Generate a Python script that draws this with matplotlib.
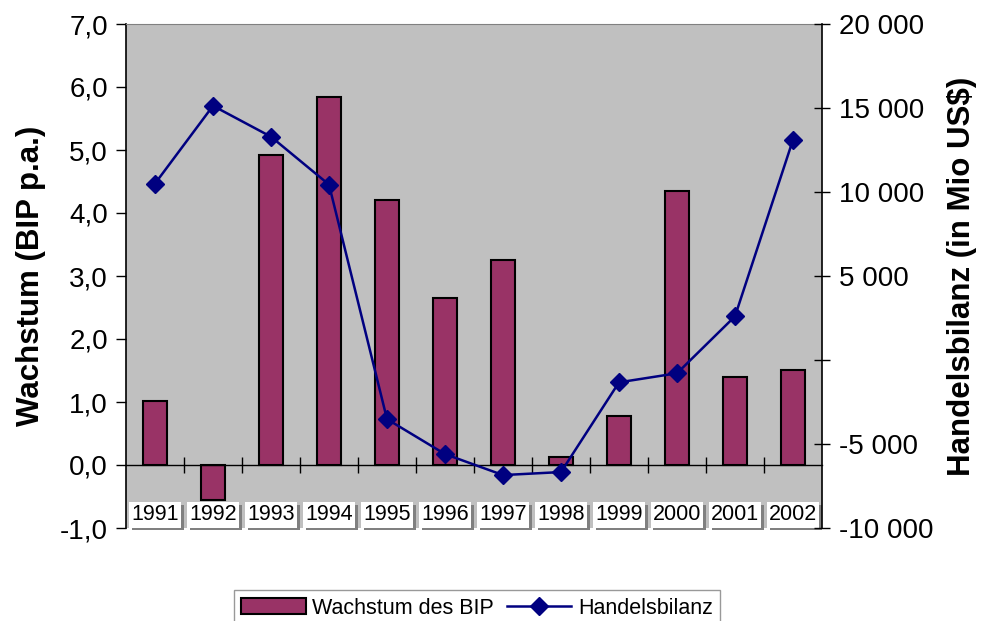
import numpy as np
import matplotlib
matplotlib.use('Agg')
from matplotlib import pyplot as plt
from matplotlib import transforms
from matplotlib import patheffects
from matplotlib.ticker import FuncFormatter

plt.rcParams['font.family'] = ['Liberation Sans', 'DejaVu Sans']

years = ['1991','1992','1993','1994','1995','1996','1997','1998','1999','2000','2001','2002']
wachstum = [1.02, -0.55, 4.92, 5.84, 4.21, 2.65, 3.26, 0.12, 0.78, 4.35, 1.40, 1.51]
handelsbilanz = [10500, 15130, 13290, 10440, -3520, -5600, -6850, -6670, -1330, -790, 2600, 13110]

bar_color = '#993366'
line_color = '#000080'

fig = plt.figure(figsize=(9.86, 6.21), dpi=100)
ax = fig.add_axes([126/986, 1-528/621, 696/986, 504/621])
ax.set_facecolor('#c0c0c0')
x = np.arange(len(years))

bars = ax.bar(x, wachstum, width=0.4, color=bar_color, edgecolor='black', linewidth=1.5, zorder=2,
              label='Wachstum des BIP')
ax.set_xlim(-0.5, len(years)-0.5)
ax.set_ylim(-1, 7)
ax.set_yticks(np.arange(-1, 7.1, 1))
ax.yaxis.set_major_formatter(FuncFormatter(lambda v, p: ('%.1f' % v).replace('.', ',')))
ax.tick_params(axis='y', labelsize=20, direction='out', length=7, width=1, pad=6)

# x axis at zero line, ticks between categories
ax.spines['bottom'].set_position(('data', 0))
ax.spines['bottom'].set_linewidth(1)
ax.spines['top'].set_color('#808080')
ax.spines['right'].set_visible(False)
ax.spines['left'].set_linewidth(1.2)
ax.set_xticks(np.arange(0.5, len(years)-1, 1))
ax.set_xticklabels([])
ax.tick_params(axis='x', direction='inout', length=12, width=1)

# year labels in white boxes near the bottom, with grey shadow
trans = transforms.blended_transform_factory(ax.transData, ax.transAxes)
for i, y in enumerate(years):
    t = ax.text(i, 0.026, y, transform=trans, ha='center', va='center', fontsize=15.5, color='black',
                bbox=dict(boxstyle='square,pad=0.1', fc='white', ec='none'), zorder=4)
    t.get_bbox_patch().set_path_effects([
        patheffects.withSimplePatchShadow(offset=(2, -2), shadow_rgbFace='#808080', alpha=1)])

ax.set_ylabel('Wachstum (BIP p.a.)', fontsize=22.5, fontweight='bold', labelpad=10)

ax2 = ax.twinx()
ax2.plot(x, handelsbilanz, color=line_color, linewidth=1.8, marker='D', markersize=9, zorder=5,
         label='Handelsbilanz')
ax2.set_ylim(-10000, 20000)
ax2.set_yticks(np.arange(-10000, 20001, 5000))
ax2.yaxis.set_major_formatter(FuncFormatter(lambda v, p: '' if v == 0 else '{:,.0f}'.format(v).replace(',', ' ')))
ax2.tick_params(axis='y', labelsize=20, direction='inout', length=12, width=1, pad=6)
for s in ['top', 'bottom', 'left']:
    ax2.spines[s].set_visible(False)
ax2.spines['right'].set_linewidth(1.2)
ax2.set_ylabel('Handelsbilanz (in Mio US$)', fontsize=22.5, fontweight='bold', labelpad=10)
ax.set_zorder(1)
ax2.set_zorder(2)

leg = fig.legend(handles=[bars, ax2.lines[0]], loc='upper center', bbox_to_anchor=(477/986, 1-590/621),
                 ncol=2, fontsize=15.5, frameon=True, fancybox=False, edgecolor='#808080',
                 handlelength=3.0, handleheight=0.8, handletextpad=0.3, columnspacing=0.6,
                 borderpad=0.35, borderaxespad=0)
leg.get_frame().set_linewidth(1)

fig.savefig('out.png', dpi=100)
